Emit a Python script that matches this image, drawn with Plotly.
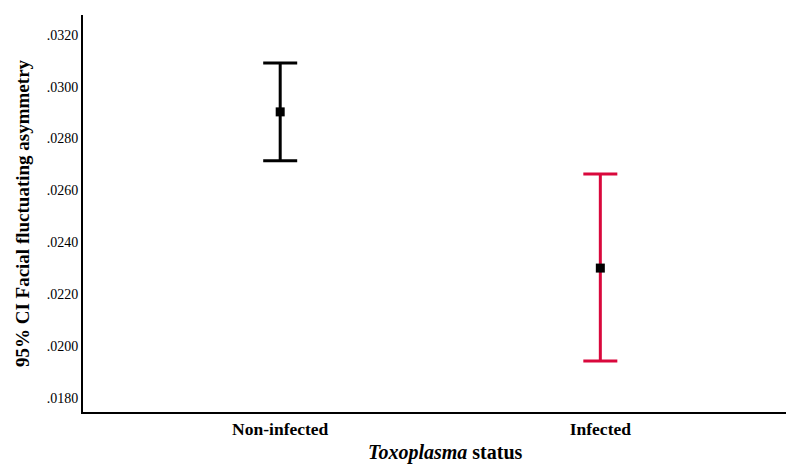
import plotly.graph_objects as go

categories = ["Non-infected", "Infected"]
means = [0.02903, 0.02300]
upper = [0.03092, 0.02663]
lower = [0.02714, 0.01941]
colors = ["#000000", "#d9083c"]
tick_vals = [0.018, 0.020, 0.022, 0.024, 0.026, 0.028, 0.030, 0.032]
tick_text = [".0180", ".0200", ".0220", ".0240", ".0260", ".0280", ".0300", ".0320"]

fig = go.Figure()
for i, c in enumerate(categories):
    fig.add_trace(go.Scatter(
        x=[i], y=[means[i]], mode="markers",
        marker=dict(symbol="square", size=9, color="black"),
        error_y=dict(type="data", symmetric=False,
                     array=[upper[i] - means[i]], arrayminus=[means[i] - lower[i]],
                     color=colors[i], thickness=3, width=17),
        showlegend=False,
    ))

fig.update_layout(
    width=786, height=467,
    margin=dict(l=83, r=0, t=15, b=55, autoexpand=False),
    paper_bgcolor="white", plot_bgcolor="white",
    font=dict(family="Liberation Serif", color="black"),
    xaxis=dict(range=[-0.616, 1.58], tickvals=[0, 1], ticktext=["<b>Non-infected</b>", "<b>Infected</b>"],
               tickfont=dict(size=17.5), showgrid=False, zeroline=False, automargin=False,
               showline=True, linecolor="black", linewidth=2, ticks=""),
    yaxis=dict(range=[0.017444, 0.03277], tickvals=tick_vals, ticktext=tick_text,
               tickfont=dict(size=14), showgrid=False, zeroline=False, automargin=False,
               showline=True, linecolor="black", linewidth=2, ticks="", ticklen=0,
               title=dict(text="<b>95% CI Facial fluctuating asymmetry</b>", font=dict(size=19), standoff=12)),
    annotations=[dict(text="<b><i>Toxoplasma</i> status</b>", xref="paper", yref="paper",
                      x=0.515, y=-0.135, xanchor="center", yanchor="bottom",
                      showarrow=False, font=dict(size=20))],
)
fig.write_html("out.html", config={"displayModeBar": False})

with open("out.html", "r", encoding="utf-8") as f:
    html = f.read()
html = html.replace("<body>", '<body style="margin:0;padding:0;overflow:hidden">', 1)
html = html.replace("<head>", "<head><style>html,body{margin:0;padding:0;}</style>", 1)
with open("out.html", "w", encoding="utf-8") as f:
    f.write(html)
